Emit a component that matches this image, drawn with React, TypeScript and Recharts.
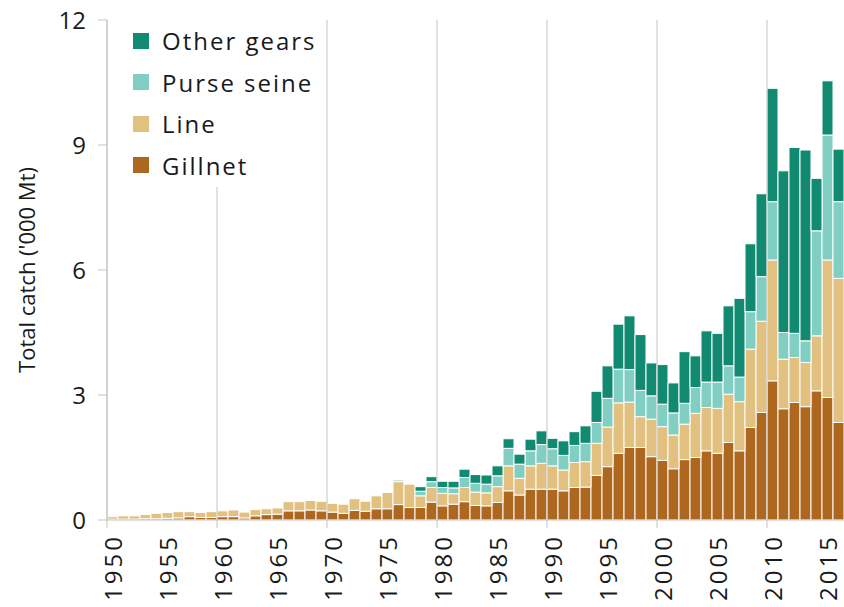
import React from 'react';
import { BarChart, Bar, XAxis, YAxis, ReferenceLine, Legend } from 'recharts';

// catch by gear, '000 Mt, 1950-2016
const years = [
  1950, 1951, 1952, 1953, 1954, 1955, 1956, 1957, 1958, 1959,
  1960, 1961, 1962, 1963, 1964, 1965, 1966, 1967, 1968, 1969,
  1970, 1971, 1972, 1973, 1974, 1975, 1976, 1977, 1978, 1979,
  1980, 1981, 1982, 1983, 1984, 1985, 1986, 1987, 1988, 1989,
  1990, 1991, 1992, 1993, 1994, 1995, 1996, 1997, 1998, 1999,
  2000, 2001, 2002, 2003, 2004, 2005, 2006, 2007, 2008, 2009,
  2010, 2011, 2012, 2013, 2014, 2015, 2016,
];

const gillnet = [
  0.02, 0.02, 0.02, 0.03, 0.03, 0.04, 0.05, 0.08, 0.06, 0.06,
  0.08, 0.08, 0.05, 0.1, 0.13, 0.14, 0.22, 0.22, 0.24, 0.22,
  0.19, 0.16, 0.23, 0.21, 0.27, 0.27, 0.37, 0.3, 0.3, 0.43,
  0.34, 0.38, 0.44, 0.35, 0.34, 0.42, 0.7, 0.6, 0.74, 0.74,
  0.74, 0.7, 0.78, 0.79, 1.07, 1.28, 1.6, 1.74, 1.74, 1.52,
  1.43, 1.23, 1.45, 1.5, 1.66, 1.6, 1.86, 1.66, 2.22, 2.58,
  3.34, 2.67, 2.82, 2.72, 3.1, 2.94, 2.34,
];

const line = [
  0.06, 0.08, 0.08, 0.1, 0.13, 0.14, 0.15, 0.12, 0.12, 0.14,
  0.14, 0.16, 0.14, 0.15, 0.14, 0.15, 0.22, 0.22, 0.23, 0.23,
  0.21, 0.22, 0.28, 0.24, 0.31, 0.39, 0.55, 0.56, 0.28, 0.35,
  0.3, 0.25, 0.34, 0.32, 0.31, 0.38, 0.6, 0.4, 0.56, 0.62,
  0.56, 0.5, 0.6, 0.61, 0.77, 0.95, 1.21, 1.09, 0.74, 0.9,
  0.81, 0.81, 0.85, 1.06, 1.04, 1.08, 1.16, 1.18, 1.88, 2.19,
  2.9, 1.19, 1.08, 1.06, 1.32, 3.3, 3.46,
];

const purseSeine = [
  0, 0, 0, 0, 0, 0, 0, 0, 0, 0,
  0, 0, 0, 0, 0, 0, 0, 0, 0, 0,
  0, 0, 0, 0, 0, 0, 0.04, 0, 0.11, 0.14,
  0.14, 0.14, 0.24, 0.21, 0.21, 0.26, 0.42, 0.34, 0.36, 0.45,
  0.41, 0.35, 0.41, 0.44, 0.5, 0.69, 0.81, 0.78, 0.63, 0.56,
  0.54, 0.53, 0.5, 0.62, 0.61, 0.63, 0.68, 0.59, 0.9, 1.07,
  1.4, 0.64, 0.58, 0.52, 2.52, 3.0, 1.84,
];

const otherGears = [
  0, 0, 0, 0, 0, 0, 0, 0, 0, 0,
  0, 0, 0, 0, 0, 0, 0, 0, 0, 0,
  0, 0, 0, 0, 0, 0, 0, 0, 0.11, 0.12,
  0.15, 0.16, 0.2, 0.21, 0.22, 0.24, 0.23, 0.24, 0.28, 0.33,
  0.25, 0.35, 0.33, 0.42, 0.75, 0.78, 1.08, 1.29, 1.34, 0.79,
  0.95, 0.72, 1.24, 0.76, 1.23, 1.17, 1.44, 1.89, 1.63, 1.99,
  2.72, 3.88, 4.46, 4.58, 1.26, 1.3, 1.26,
];

const yTicks = [0, 3, 6, 9, 12];
const xTicks = [1950, 1955, 1960, 1965, 1970, 1975, 1980, 1985, 1990, 1995, 2000, 2005, 2010, 2015];
// vertical grid lines sit on the left edge of each decade's first bar
const decadeStarts = [1950, 1960, 1970, 1980, 1990, 2000, 2010];
const legendOrder = ['Other gears', 'Purse seine', 'Line', 'Gillnet'];

const data = years.map((year, i) => ({
  year,
  gillnet: gillnet[i],
  line: line[i],
  purse: purseSeine[i],
  other: otherGears[i],
}));

const FONT = '"Open Sans", "Liberation Sans", sans-serif';
const GRID = '#c4c4c4';
const TEXT = '#1a1a1a';

const YearTick = ({ x, y, payload }: any) => (
  <text
    x={x}
    y={y}
    transform={`rotate(-90, ${x}, ${y})`}
    textAnchor="end"
    dominantBaseline="central"
    fontSize={24}
    letterSpacing={3}
    fill={TEXT}
    fontFamily={FONT}
  >
    {payload.value}
  </text>
);

const LegendBox = ({ payload }: any) => {
  const items = [...(payload || [])].sort(
    (a: any, b: any) => legendOrder.indexOf(a.value) - legendOrder.indexOf(b.value)
  );
  return (
    <div style={{ background: '#fff', width: 205, height: 167, paddingLeft: 13, boxSizing: 'border-box' }}>
      {items.map((entry: any) => (
        <div key={entry.value} style={{ display: 'flex', alignItems: 'center', height: 41.5 }}>
          <span style={{ width: 16, height: 16, background: entry.color, marginRight: 13, flexShrink: 0 }} />
          <span style={{ fontSize: 24, letterSpacing: 2, color: TEXT, fontFamily: FONT, whiteSpace: 'nowrap' }}>
            {entry.value}
          </span>
        </div>
      ))}
    </div>
  );
};

export default function App() {
  return (
    <div style={{ position: 'absolute', left: 0, top: 0, background: '#fff', fontFamily: FONT }}>
      <BarChart
        width={844}
        height={607}
        data={data}
        margin={{ top: 20, right: 0, bottom: 0, left: 0 }}
        barCategoryGap={0}
        barGap={0}
      >
        <XAxis
          dataKey="year"
          type="number"
          domain={[1949.5, 2016.5]}
          ticks={xTicks}
          interval={0}
          height={87}
          tickLine={false}
          tickMargin={8}
          tick={<YearTick />}
          axisLine={{ stroke: GRID }}
        />
        <YAxis
          domain={[0, 12]}
          ticks={yTicks}
          width={107}
          tickSize={9}
          tickMargin={12}
          axisLine={{ stroke: GRID }}
          tickLine={{ stroke: GRID }}
          tick={{ fontSize: 24, fill: TEXT, fontFamily: FONT }}
          label={{
            value: "Total catch ('000 Mt)",
            angle: -90,
            position: 'insideLeft',
            offset: 27,
            style: { textAnchor: 'middle', fontSize: 22, fill: TEXT, fontFamily: FONT },
          }}
        />
        {decadeStarts.map((d) => (
          <ReferenceLine
            key={d}
            segment={[{ x: d - 0.5, y: -0.2 }, { x: d - 0.5, y: 12 }]}
            stroke={GRID}
            strokeWidth={1}
            ifOverflow="visible"
          />
        ))}
        <Legend
          layout="vertical"
          align="center"
          verticalAlign="middle"
          wrapperStyle={{ left: 120, top: 20, width: 205 }}
          content={<LegendBox />}
        />
        <Bar dataKey="gillnet" name="Gillnet" stackId="a" fill="#ae671f" stroke="#fff" strokeWidth={1} isAnimationActive={false} />
        <Bar dataKey="line" name="Line" stackId="a" fill="#e2c07f" stroke="#fff" strokeWidth={1} isAnimationActive={false} />
        <Bar dataKey="purse" name="Purse seine" stackId="a" fill="#80cfc2" stroke="#fff" strokeWidth={1} isAnimationActive={false} />
        <Bar dataKey="other" name="Other gears" stackId="a" fill="#128a72" stroke="#fff" strokeWidth={1} isAnimationActive={false} />
      </BarChart>
    </div>
  );
}
